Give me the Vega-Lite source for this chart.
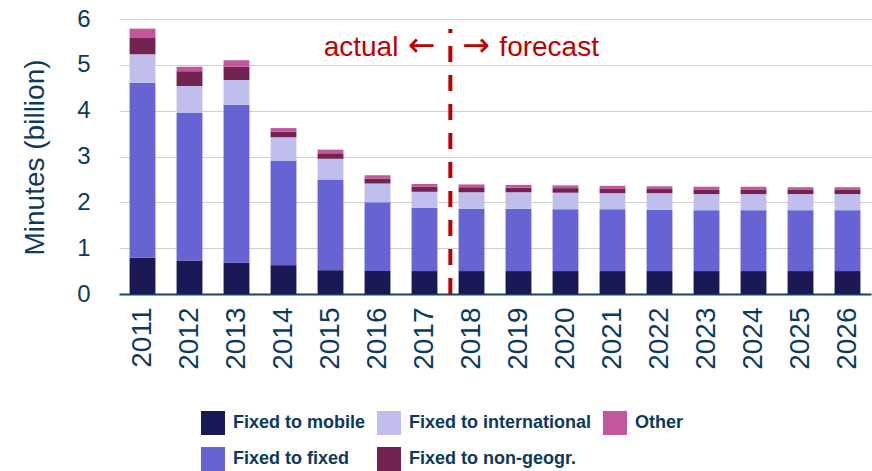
{
  "$schema": "https://vega.github.io/schema/vega-lite/v6.json",
  "width": 752,
  "height": 275,
  "autosize": {"type": "none"},
  "padding": {"left": 119, "top": 19, "right": 1, "bottom": 177},
  "background": "#ffffff",
  "config": {
    "view": {"stroke": null},
    "font": "Liberation Sans"
  },
  "datasets": {
    "minutes": [
      {"year": "2011", "series": "Fixed to mobile", "ord": 1, "value": 0.79},
      {"year": "2011", "series": "Fixed to fixed", "ord": 2, "value": 3.82},
      {"year": "2011", "series": "Fixed to international", "ord": 3, "value": 0.62},
      {"year": "2011", "series": "Fixed to non-geogr.", "ord": 4, "value": 0.37},
      {"year": "2011", "series": "Other", "ord": 5, "value": 0.19},
      {"year": "2012", "series": "Fixed to mobile", "ord": 1, "value": 0.73},
      {"year": "2012", "series": "Fixed to fixed", "ord": 2, "value": 3.22},
      {"year": "2012", "series": "Fixed to international", "ord": 3, "value": 0.59},
      {"year": "2012", "series": "Fixed to non-geogr.", "ord": 4, "value": 0.32},
      {"year": "2012", "series": "Other", "ord": 5, "value": 0.10},
      {"year": "2013", "series": "Fixed to mobile", "ord": 1, "value": 0.68},
      {"year": "2013", "series": "Fixed to fixed", "ord": 2, "value": 3.45},
      {"year": "2013", "series": "Fixed to international", "ord": 3, "value": 0.54},
      {"year": "2013", "series": "Fixed to non-geogr.", "ord": 4, "value": 0.29},
      {"year": "2013", "series": "Other", "ord": 5, "value": 0.14},
      {"year": "2014", "series": "Fixed to mobile", "ord": 1, "value": 0.63},
      {"year": "2014", "series": "Fixed to fixed", "ord": 2, "value": 2.27},
      {"year": "2014", "series": "Fixed to international", "ord": 3, "value": 0.52},
      {"year": "2014", "series": "Fixed to non-geogr.", "ord": 4, "value": 0.12},
      {"year": "2014", "series": "Other", "ord": 5, "value": 0.08},
      {"year": "2015", "series": "Fixed to mobile", "ord": 1, "value": 0.52},
      {"year": "2015", "series": "Fixed to fixed", "ord": 2, "value": 1.98},
      {"year": "2015", "series": "Fixed to international", "ord": 3, "value": 0.45},
      {"year": "2015", "series": "Fixed to non-geogr.", "ord": 4, "value": 0.12},
      {"year": "2015", "series": "Other", "ord": 5, "value": 0.08},
      {"year": "2016", "series": "Fixed to mobile", "ord": 1, "value": 0.50},
      {"year": "2016", "series": "Fixed to fixed", "ord": 2, "value": 1.50},
      {"year": "2016", "series": "Fixed to international", "ord": 3, "value": 0.41},
      {"year": "2016", "series": "Fixed to non-geogr.", "ord": 4, "value": 0.11},
      {"year": "2016", "series": "Other", "ord": 5, "value": 0.07},
      {"year": "2017", "series": "Fixed to mobile", "ord": 1, "value": 0.50},
      {"year": "2017", "series": "Fixed to fixed", "ord": 2, "value": 1.38},
      {"year": "2017", "series": "Fixed to international", "ord": 3, "value": 0.35},
      {"year": "2017", "series": "Fixed to non-geogr.", "ord": 4, "value": 0.11},
      {"year": "2017", "series": "Other", "ord": 5, "value": 0.06},
      {"year": "2018", "series": "Fixed to mobile", "ord": 1, "value": 0.50},
      {"year": "2018", "series": "Fixed to fixed", "ord": 2, "value": 1.36},
      {"year": "2018", "series": "Fixed to international", "ord": 3, "value": 0.36},
      {"year": "2018", "series": "Fixed to non-geogr.", "ord": 4, "value": 0.11},
      {"year": "2018", "series": "Other", "ord": 5, "value": 0.06},
      {"year": "2019", "series": "Fixed to mobile", "ord": 1, "value": 0.50},
      {"year": "2019", "series": "Fixed to fixed", "ord": 2, "value": 1.36},
      {"year": "2019", "series": "Fixed to international", "ord": 3, "value": 0.36},
      {"year": "2019", "series": "Fixed to non-geogr.", "ord": 4, "value": 0.10},
      {"year": "2019", "series": "Other", "ord": 5, "value": 0.06},
      {"year": "2020", "series": "Fixed to mobile", "ord": 1, "value": 0.50},
      {"year": "2020", "series": "Fixed to fixed", "ord": 2, "value": 1.35},
      {"year": "2020", "series": "Fixed to international", "ord": 3, "value": 0.36},
      {"year": "2020", "series": "Fixed to non-geogr.", "ord": 4, "value": 0.10},
      {"year": "2020", "series": "Other", "ord": 5, "value": 0.06},
      {"year": "2021", "series": "Fixed to mobile", "ord": 1, "value": 0.50},
      {"year": "2021", "series": "Fixed to fixed", "ord": 2, "value": 1.35},
      {"year": "2021", "series": "Fixed to international", "ord": 3, "value": 0.35},
      {"year": "2021", "series": "Fixed to non-geogr.", "ord": 4, "value": 0.09},
      {"year": "2021", "series": "Other", "ord": 5, "value": 0.07},
      {"year": "2022", "series": "Fixed to mobile", "ord": 1, "value": 0.50},
      {"year": "2022", "series": "Fixed to fixed", "ord": 2, "value": 1.34},
      {"year": "2022", "series": "Fixed to international", "ord": 3, "value": 0.36},
      {"year": "2022", "series": "Fixed to non-geogr.", "ord": 4, "value": 0.09},
      {"year": "2022", "series": "Other", "ord": 5, "value": 0.06},
      {"year": "2023", "series": "Fixed to mobile", "ord": 1, "value": 0.50},
      {"year": "2023", "series": "Fixed to fixed", "ord": 2, "value": 1.33},
      {"year": "2023", "series": "Fixed to international", "ord": 3, "value": 0.35},
      {"year": "2023", "series": "Fixed to non-geogr.", "ord": 4, "value": 0.09},
      {"year": "2023", "series": "Other", "ord": 5, "value": 0.07},
      {"year": "2024", "series": "Fixed to mobile", "ord": 1, "value": 0.50},
      {"year": "2024", "series": "Fixed to fixed", "ord": 2, "value": 1.33},
      {"year": "2024", "series": "Fixed to international", "ord": 3, "value": 0.35},
      {"year": "2024", "series": "Fixed to non-geogr.", "ord": 4, "value": 0.09},
      {"year": "2024", "series": "Other", "ord": 5, "value": 0.07},
      {"year": "2025", "series": "Fixed to mobile", "ord": 1, "value": 0.50},
      {"year": "2025", "series": "Fixed to fixed", "ord": 2, "value": 1.33},
      {"year": "2025", "series": "Fixed to international", "ord": 3, "value": 0.35},
      {"year": "2025", "series": "Fixed to non-geogr.", "ord": 4, "value": 0.09},
      {"year": "2025", "series": "Other", "ord": 5, "value": 0.06},
      {"year": "2026", "series": "Fixed to mobile", "ord": 1, "value": 0.50},
      {"year": "2026", "series": "Fixed to fixed", "ord": 2, "value": 1.33},
      {"year": "2026", "series": "Fixed to international", "ord": 3, "value": 0.35},
      {"year": "2026", "series": "Fixed to non-geogr.", "ord": 4, "value": 0.09},
      {"year": "2026", "series": "Other", "ord": 5, "value": 0.06}
    ],
    "divider": [
      {"year": "2017", "bottom": 0, "top": 5.78}
    ],
    "notes": [
      {"year": "2017", "y": 5.19, "part": "word-left", "label": "actual"},
      {"year": "2017", "y": 5.19, "part": "arrow-left", "label": "←"},
      {"year": "2017", "y": 5.19, "part": "arrow-right", "label": "→"},
      {"year": "2017", "y": 5.19, "part": "word-right", "label": "forecast"}
    ]
  },
  "layer": [
    {
      "data": {"name": "minutes"},
      "mark": {"type": "bar"},
      "encoding": {
        "x": {
          "field": "year",
          "type": "ordinal",
          "scale": {"paddingInner": 0.45, "paddingOuter": 0.225},
          "axis": {
            "title": null,
            "labelAngle": 270,
            "labelFontSize": 28,
            "labelColor": "#0D3A5C",
            "labelPadding": 13,
            "ticks": false,
            "grid": false,
            "domainColor": "#1A4463",
            "domainWidth": 2
          }
        },
        "y": {
          "field": "value",
          "type": "quantitative",
          "stack": "zero",
          "scale": {"domain": [0, 6], "nice": false},
          "axis": {
            "title": "Minutes (billion)",
            "titleFontSize": 28,
            "titleFontWeight": "normal",
            "titleColor": "#0D3A5C",
            "titleX": -76,
            "titleY": 138,
            "titleAngle": 270,
            "titleAlign": "center",
            "titleBaseline": "alphabetic",
            "values": [0, 1, 2, 3, 4, 5, 6],
            "labelFontSize": 24,
            "labelColor": "#0D3A5C",
            "labelPadding": 29,
            "ticks": false,
            "domain": false,
            "grid": true,
            "gridColor": "#CFCFCF",
            "gridWidth": 1.2
          }
        },
        "color": {
          "field": "series",
          "type": "nominal",
          "scale": {
            "domain": ["Fixed to mobile", "Fixed to fixed", "Fixed to international", "Fixed to non-geogr.", "Other"],
            "range": ["#1B1856", "#6763D2", "#C0BEEC", "#72234F", "#C2579E"]
          },
          "legend": {
            "orient": "none",
            "legendX": 82,
            "legendY": 392,
            "columns": 3,
            "title": null,
            "padding": 0,
            "symbolType": "square",
            "symbolSize": 576,
            "symbolStrokeWidth": 0,
            "labelFontSize": 18,
            "labelFontWeight": "bold",
            "labelColor": "#0D3A5C",
            "labelOffset": 8,
            "labelLimit": 300,
            "rowPadding": 12,
            "columnPadding": 11
          }
        },
        "order": {"field": "ord", "type": "quantitative", "sort": "ascending"}
      }
    },
    {
      "data": {"name": "divider"},
      "mark": {"type": "rule", "color": "#C00000", "strokeWidth": 4, "strokeDash": [16, 13]},
      "encoding": {
        "x": {"field": "year", "type": "ordinal", "bandPosition": 1.5},
        "y": {"field": "bottom", "type": "quantitative"},
        "y2": {"field": "top"}
      }
    },
    {
      "data": {"name": "notes"},
      "transform": [{"filter": "datum.part === 'word-left'"}],
      "mark": {"type": "text", "color": "#C00000", "fontSize": 28, "align": "right", "baseline": "alphabetic", "dx": -52},
      "encoding": {
        "x": {"field": "year", "type": "ordinal", "bandPosition": 1.5},
        "y": {"field": "y", "type": "quantitative"},
        "text": {"field": "label"}
      }
    },
    {
      "data": {"name": "notes"},
      "transform": [{"filter": "datum.part === 'arrow-left'"}],
      "mark": {"type": "text", "color": "#C00000", "font": "DejaVu Sans", "fontSize": 33, "align": "right", "baseline": "alphabetic", "dx": -15},
      "encoding": {
        "x": {"field": "year", "type": "ordinal", "bandPosition": 1.5},
        "y": {"field": "y", "type": "quantitative"},
        "text": {"field": "label"}
      }
    },
    {
      "data": {"name": "notes"},
      "transform": [{"filter": "datum.part === 'arrow-right'"}],
      "mark": {"type": "text", "color": "#C00000", "font": "DejaVu Sans", "fontSize": 33, "align": "left", "baseline": "alphabetic", "dx": 12},
      "encoding": {
        "x": {"field": "year", "type": "ordinal", "bandPosition": 1.5},
        "y": {"field": "y", "type": "quantitative"},
        "text": {"field": "label"}
      }
    },
    {
      "data": {"name": "notes"},
      "transform": [{"filter": "datum.part === 'word-right'"}],
      "mark": {"type": "text", "color": "#C00000", "fontSize": 28, "align": "left", "baseline": "alphabetic", "dx": 49},
      "encoding": {
        "x": {"field": "year", "type": "ordinal", "bandPosition": 1.5},
        "y": {"field": "y", "type": "quantitative"},
        "text": {"field": "label"}
      }
    }
  ]
}
